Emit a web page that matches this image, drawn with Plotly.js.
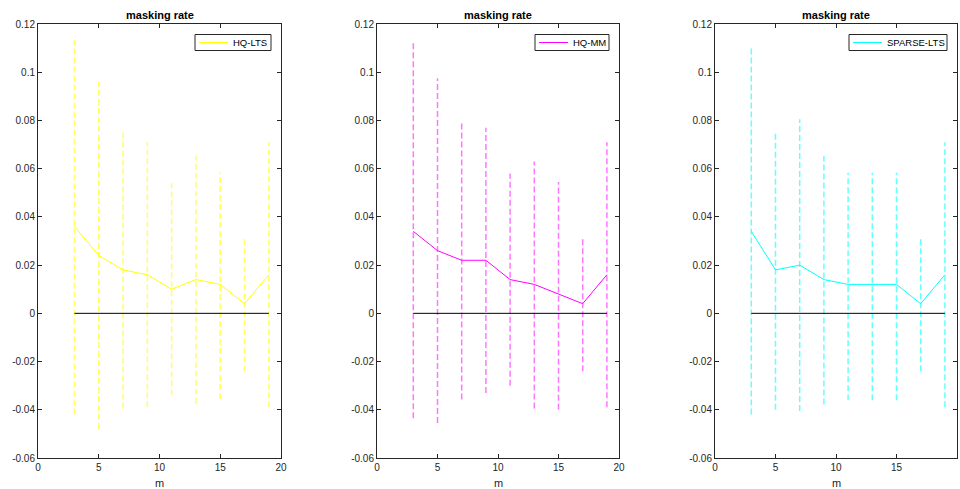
<!DOCTYPE html>
<html>
<head>
<meta charset="utf-8">
<script src="https://cdn.plot.ly/plotly-3.0.1.min.js"></script>
<style>
  html, body { margin: 0; padding: 0; background: #fff; }
  #chart { width: 960px; height: 489px; }
</style>
</head>
<body>
<div id="chart"></div>
<script>
// ---- data ----
const m = [3, 5, 7, 9, 11, 13, 15, 17, 19];

const hqltsMean  = [0.036, 0.024, 0.018, 0.016, 0.010, 0.014, 0.012, 0.004, 0.016];
const hqltsUpper = [0.114, 0.096, 0.0755, 0.071, 0.054, 0.0655, 0.0585, 0.032, 0.071];
const hqltsLower = [-0.042, -0.048, -0.0395, -0.039, -0.034, -0.0375, -0.0355, -0.024, -0.039];

const hqmmMean  = [0.034, 0.026, 0.022, 0.022, 0.014, 0.012, 0.008, 0.004, 0.016];
const hqmmUpper = [0.112, 0.0975, 0.0795, 0.077, 0.058, 0.063, 0.0545, 0.032, 0.071];
const hqmmLower = [-0.0435, -0.0455, -0.0357, -0.033, -0.030, -0.0395, -0.040, -0.024, -0.039];

const sparseMean  = [0.034, 0.018, 0.020, 0.014, 0.012, 0.012, 0.012, 0.004, 0.016];
const sparseUpper = [0.110, 0.0755, 0.0805, 0.0653, 0.0583, 0.0583, 0.0583, 0.032, 0.071];
const sparseLower = [-0.042, -0.040, -0.0405, -0.0378, -0.036, -0.036, -0.036, -0.024, -0.039];

const zeroX = [3, 19];
const zeroY = [0, 0];

const seriesNames = ['HQ-LTS', 'HQ-MM', 'SPARSE-LTS'];
const panelTitle = 'masking rate';
const xLabel = 'm';

const yTickVals = [-0.06, -0.04, -0.02, 0, 0.02, 0.04, 0.06, 0.08, 0.1, 0.12];
const yTickText = ['-0.06', '-0.04', '-0.02', '0', '0.02', '0.04', '0.06', '0.08', '0.1', '0.12'];
const xTickVals = [0, 5, 10, 15, 20];
const xTickText = ['0', '5', '10', '15', '20'];

// ---- styling ----
const W = 960, H = 489;
const colors = ['#ffff00', '#ff00ff', '#00ffff'];
const barColors = ['#ffff66', '#ff77ff', '#66ffff'];
const panelPx = [[38, 281], [377, 619], [715, 957]];
const legendBoxLeftPx = [195, 535, 849];
const domainY = [31 / H, 465 / H];
const axisColor = '#262626';
const fontFam = 'Liberation Sans, Arial, sans-serif';

const means = [hqltsMean, hqmmMean, sparseMean];
const uppers = [hqltsUpper, hqmmUpper, sparseUpper];
const lowers = [hqltsLower, hqmmLower, sparseLower];

const traces = [];
const annotations = [];
const shapes = [];
const layout = {
  width: W, height: H,
  margin: {l: 0, r: 0, t: 0, b: 0},
  paper_bgcolor: '#ffffff',
  plot_bgcolor: '#ffffff',
  font: {family: fontFam, size: 10, color: axisColor},
  showlegend: false,
  annotations: annotations,
  shapes: shapes
};

const px = v => v / W;
const py = v => 1 - v / H;

for (let p = 0; p < 3; p++) {
  const sfx = p === 0 ? '' : String(p + 1);
  const xa = 'x' + sfx, ya = 'y' + sfx;
  const dom = [px(panelPx[p][0]), px(panelPx[p][1])];

  // error bars as dashed vertical segments (one trace per bar)
  for (let i = 0; i < m.length; i++) {
    traces.push({
      x: [m[i], m[i]], y: [lowers[p][i], uppers[p][i]], xaxis: xa, yaxis: ya,
      mode: 'lines', type: 'scatter',
      line: {color: barColors[p], width: 1.5, dash: '6px,3px'},
      showlegend: false, hoverinfo: 'skip'
    });
  }
  // zero line
  traces.push({
    x: zeroX, y: zeroY, xaxis: xa, yaxis: ya, mode: 'lines', type: 'scatter',
    line: {color: '#000000', width: 1}, showlegend: false, hoverinfo: 'skip'
  });
  // mean line
  traces.push({
    x: m, y: means[p], xaxis: xa, yaxis: ya, mode: 'lines', type: 'scatter',
    name: seriesNames[p], line: {color: colors[p], width: 1}
  });

  const axCommon = {
    showline: true, mirror: 'allticks', linecolor: axisColor, linewidth: 1,
    ticks: 'inside', ticklen: 4, tickcolor: axisColor, tickwidth: 1,
    showgrid: false, zeroline: false,
    tickfont: {family: fontFam, size: 10, color: axisColor}
  };
  layout['xaxis' + sfx] = Object.assign({}, axCommon, {
    domain: dom, range: [0, 20], anchor: ya,
    tickmode: 'array', tickvals: xTickVals, ticktext: xTickText
  });
  layout['yaxis' + sfx] = Object.assign({}, axCommon, {
    domain: domainY, range: [-0.06, 0.12], anchor: xa,
    tickmode: 'array', tickvals: yTickVals, ticktext: yTickText
  });

  // legend box (drawn)
  const bl = legendBoxLeftPx[p], br = panelPx[p][1] - 10;
  shapes.push({
    type: 'rect', xref: 'paper', yref: 'paper',
    x0: px(bl), x1: px(br), y0: py(50.5), y1: py(34.5),
    line: {color: axisColor, width: 1}, fillcolor: '#ffffff', layer: 'above'
  });
  shapes.push({
    type: 'line', xref: 'paper', yref: 'paper',
    x0: px(bl + 4), x1: px(bl + 33), y0: py(42.5), y1: py(42.5),
    line: {color: colors[p], width: 1}, layer: 'above'
  });
  annotations.push({
    text: seriesNames[p], xref: 'paper', yref: 'paper',
    x: px(bl + 36), y: py(42.5), xanchor: 'left', yanchor: 'middle', showarrow: false,
    font: {family: fontFam, size: 9.5, color: '#000000'}
  });

  const cx = (dom[0] + dom[1]) / 2;
  annotations.push({
    text: '<b>' + panelTitle + '</b>', xref: 'paper', yref: 'paper',
    x: cx, y: py(15), xanchor: 'center', yanchor: 'middle', showarrow: false,
    font: {family: fontFam, size: 11, color: '#000000'}
  });
  annotations.push({
    text: xLabel, xref: 'paper', yref: 'paper',
    x: cx, y: py(483), xanchor: 'center', yanchor: 'middle', showarrow: false,
    font: {family: fontFam, size: 11, color: axisColor}
  });
}

Plotly.newPlot('chart', traces, layout, {staticPlot: true, displayModeBar: false});
</script>
</body>
</html>
